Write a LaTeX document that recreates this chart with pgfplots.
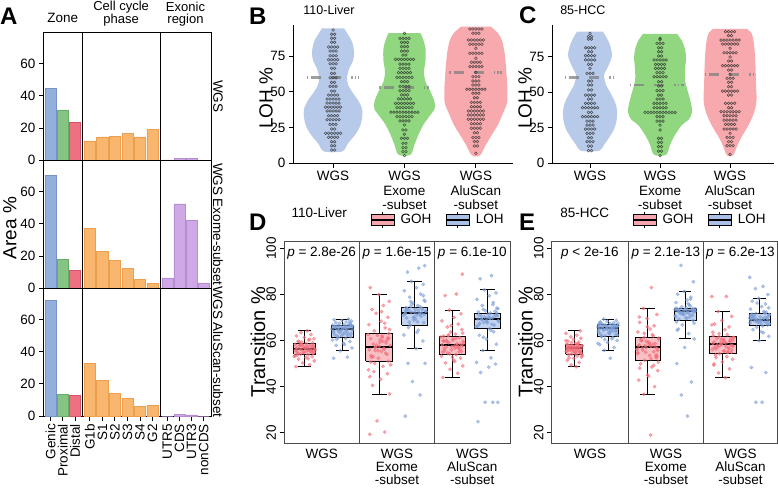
\documentclass[border=0pt]{standalone}
\usepackage{fontspec}
\setmainfont{Liberation Sans}
\usepackage{pgfplots}
\usepackage{pgfplotstable}
\pgfplotsset{compat=1.18}

\newcommand\fsn{\fontsize{13.5bp}{14.5bp}\selectfont}
\newcommand\fst{\fontsize{12.5bp}{14bp}\selectfont}
\newcommand\fsl{\fontsize{19bp}{21bp}\selectfont}
\newcommand\fsT{\fontsize{20bp}{22bp}\selectfont}
\newcommand\fsL{\fontsize{24bp}{26bp}\selectfont\bfseries}

\definecolor{genic}{HTML}{93AFDC}\definecolor{genicd}{HTML}{7393C9}
\definecolor{prox}{HTML}{86C484}\definecolor{proxd}{HTML}{66AD63}
\definecolor{dist}{HTML}{EE7182}\definecolor{distd}{HTML}{D85369}
\definecolor{phase}{HTML}{F9B66E}\definecolor{phased}{HTML}{EE9F4D}
\definecolor{exon}{HTML}{CEA9E6}\definecolor{exond}{HTML}{B48DD3}
\definecolor{vblue}{HTML}{B7CAE9}\definecolor{vgreen}{HTML}{90D780}
\definecolor{vred}{HTML}{F7A9AD}
\definecolor{ptred}{HTML}{F26E7A}\definecolor{ptblue}{HTML}{7E9FD8}
\definecolor{boxred}{HTML}{F5A5AD}\definecolor{boxblue}{HTML}{ABC0E7}

\pgfplotsset{
  /pgf/number format/assume math mode=true,
  base/.style={scale only axis, anchor=south west, clip=false, tick align=outside,
    major tick length=4.5bp, tick style={black, line width=0.8bp},
    tick label style={font=\fsn}, label style={font=\fsl},
    axis line style={line width=0.8bp}},
  pA/.style={base, height=127.9bp, ymin=0, ymax=79.5, ybar, bar width=0.9, bar shift=0pt,
    xtick=\empty, ytick=\empty, every axis plot/.append style={line width=0.5bp}},
  pAl/.style={ytick={0,20,40,60}, ytick pos=left},
  pAb/.style={xtick pos=left, xticklabel style={rotate=90, anchor=east}},
  c1/.style={at={(43.3bp,#1)}, width=39bp, xmin=0.4, xmax=3.6},
  c2/.style={at={(82.3bp,#1)}, width=77.7bp, xmin=0.4, xmax=6.6},
  c3/.style={at={(160bp,#1)}, width=51bp, xmin=0.4, xmax=4.6},
  vio/.style={base, height=138.3bp, ymin=0, axis x line*=bottom, axis y line*=left,
    axis line style={-}, xtick={1,2,3},
    xticklabels={WGS,{WGS\\Exome\\-subset},{WGS\\AluScan\\-subset}},
    xticklabel style={align=center}, ytick={0,25,50,75}, ylabel={LOH \%}},
  dots/.style={only marks, mark=o, mark size=1.35bp,
    mark options={line width=0.55bp, draw=black!85, opacity=0.75}},
  med/.style={gray, opacity=0.75, line width=2.8bp,
    dash pattern=on 1.5bp off 3bp on 10bp off 10bp on 10bp off 10bp on 1.5bp off 2bp on 1.5bp},
  bx/.style={base, height=202.3bp, ymin=15.4, ymax=103.2, xmin=0.5, xmax=6.5,
    axis line style={black!70}, xtick style={draw=none},
    xticklabels={WGS,{WGS\\Exome\\-subset},{WGS\\AluScan\\-subset}},
    xticklabel style={align=center, font=\fontsize{13.5bp}{13bp}\selectfont, yshift=2bp},
    ytick={20,40,60,80,100}, ytick pos=left,
    yticklabel style={rotate=90, anchor=south}, ylabel={Transition \%},
    ylabel style={font=\fsT, at={(axis description cs:-0.115,0.5)}, anchor=center},
    legend style={draw=none, fill=none, font=\fsn, legend columns=2, inner sep=0pt,
      /tikz/every odd column/.append style={column sep=4bp},
      /tikz/every even column/.append style={column sep=12bp}}},
  pr/.style={only marks, mark=*, mark size=1.7bp, ptred, mark options={draw=none, opacity=0.6}},
  pb/.style={only marks, mark=*, mark size=1.7bp, ptblue, mark options={draw=none, opacity=0.6}},
}

\newcommand\keyimg[1]{\addlegendimage{legend image code/.code={
  \draw[black, line width=0.8bp, fill=#1] (0bp,-5.5bp) rectangle (23bp,5.5bp);
  \draw[black, line width=1.4bp] (0bp,0bp) -- (23bp,0bp);
  \draw[black, line width=0.8bp] (11.5bp,5.5bp) -- (11.5bp,8bp) (11.5bp,-5.5bp) -- (11.5bp,-8bp);}}}
% box: colour, left, right, q1, median, q3
\newcommand\bxbox[6]{%
  \addplot[fill=#1, fill opacity=0.7, draw=black, line width=0.9bp, line join=miter]
    coordinates {(#2,#4) (#3,#4) (#3,#6) (#2,#6) (#2,#4)};
  \addplot[black, line width=2bp] coordinates {(#2,#5) (#3,#5)};}
% whiskers: position, cap left, cap right, lower whisker, q1, q3, upper whisker
\newcommand\bxwh[7]{%
  \addplot[black, line width=0.9bp] coordinates {(#1,#6) (#1,#7)};
  \addplot[black, line width=0.9bp] coordinates {(#1,#5) (#1,#4)};
  \addplot[black, line width=0.9bp] coordinates {(#2,#7) (#3,#7)};
  \addplot[black, line width=0.9bp] coordinates {(#2,#4) (#3,#4)};}

% jitter offsets and values for D (110-Liver) and E (85-HCC)
\pgfplotstableread{
dx dy Dg1 Dl1 Dg2 Dl2 Dg3 Dl3 Eg1 El1 Eg2 El2 Eg3 El3
-0.21 0.06 48.7 52.3 19.3 27.2 44.0 24.8 48.6 52.3 19.0 27.2 43.9 33.2
0.12 -0.09 49.5 52.8 20.3 36.4 45.8 33.2 49.4 55.7 36.7 36.4 45.9 33.2
-0.05 0.15 50.3 55.5 25.1 42.2 47.5 33.2 50.5 57.0 40.0 42.0 47.7 46.1
0.23 -0.20 51.2 56.8 36.8 50.1 49.0 33.2 51.4 58.2 42.8 50.0 49.3 48.3
-0.15 -0.01 51.9 57.9 40.5 50.1 50.3 46.1 52.2 59.2 45.0 57.0 50.7 59.9
0.03 0.22 52.6 58.8 43.2 56.5 51.5 48.5 52.8 60.0 46.9 60.7 51.9 61.8
0.18 0.09 53.0 59.6 45.6 59.8 52.4 49.8 53.3 60.8 48.5 63.0 53.0 63.4
-0.24 -0.16 53.4 60.2 47.3 62.4 53.2 50.5 53.7 61.6 49.9 65.0 53.7 64.7
0.08 -0.07 53.8 60.8 48.8 64.5 53.9 52.5 54.1 62.1 51.4 66.8 54.3 65.8
-0.10 0.19 54.1 61.3 50.1 66.7 54.6 55.7 54.5 62.6 52.5 68.7 54.9 66.7
0.20 0.04 54.4 61.7 51.0 67.8 55.3 58.4 54.9 63.1 53.5 69.6 55.5 67.2
-0.02 -0.23 54.7 62.1 52.3 68.9 55.9 60.6 55.3 63.6 54.4 70.4 56.1 67.7
-0.18 0.13 55.0 62.5 53.4 69.8 56.5 62.3 55.6 64.0 55.2 71.1 56.7 68.1
0.14 -0.11 55.2 62.9 54.5 70.5 57.0 63.8 55.9 64.4 55.9 71.7 57.2 68.5
0.05 0.21 55.5 63.3 55.3 71.1 57.6 65.1 56.2 64.8 56.5 72.2 57.8 68.8
-0.22 -0.04 55.7 63.7 56.0 71.6 58.1 66.2 56.5 65.1 57.0 72.6 58.4 69.0
0.10 0.07 55.9 64.1 56.6 72.0 58.6 67.1 56.7 65.4 57.5 72.9 58.9 69.3
-0.08 -0.19 56.1 64.5 57.2 72.4 59.1 67.9 56.9 65.6 58.1 73.1 59.4 69.6
0.24 0.16 56.3 64.8 57.8 72.8 59.6 68.6 57.1 65.8 58.7 73.3 59.9 69.9
-0.13 0.01 56.4 65.1 58.5 73.2 60.1 69.3 57.3 66.0 59.3 73.5 60.4 70.3
0.01 -0.13 56.6 65.3 59.2 73.6 60.6 69.9 57.5 66.2 59.9 73.7 60.9 70.7
0.16 0.24 56.8 65.5 60.0 74.0 61.2 70.5 57.7 66.4 60.6 73.8 61.3 71.1
-0.19 -0.08 57.0 65.7 60.8 74.3 61.9 71.2 57.9 66.6 61.4 74.6 61.7 71.7
0.07 0.10 57.2 65.9 61.5 75.2 62.8 71.9 58.1 66.8 62.5 75.5 62.6 72.6
-0.04 -0.22 57.4 66.1 62.2 76.3 63.7 72.9 58.4 67.1 63.7 76.5 63.6 73.6
0.21 0.05 57.6 66.3 63.0 77.5 64.8 74.0 58.8 67.4 65.0 77.6 64.7 74.7
-0.11 0.14 57.8 66.5 64.2 78.8 65.9 75.2 59.3 67.7 66.4 78.8 65.9 75.9
0.13 -0.18 58.0 66.6 65.5 80.2 67.1 76.5 59.8 68.0 67.9 80.1 67.2 77.1
-0.23 -0.02 58.3 66.7 66.9 81.6 68.5 77.9 60.4 68.4 69.5 81.3 68.7 78.3
0.04 0.20 58.6 66.9 68.4 83.0 70.0 79.4 61.0 68.8 71.3 85.5 70.5 80.0
0.19 -0.10 58.9 67.2 70.1 84.4 71.6 80.7 61.6 69.3 73.9 92.6 72.6 82.5
-0.07 0.08 59.3 67.5 71.8 85.7 73.2 82.0 62.3 64.2 83.0 72.0 79.1 83.5
-0.16 -0.24 59.7 67.8 73.5 89.7 79.5 86.8 63.1 65.9 56.2 73.4 79.1 87.4
0.09 0.18 60.2 68.1 75.2 91.4 80.2 88.2 64.2 66.5 53.0 70.9 58.0 69.5
0.22 0.03 60.8 68.4 77.0 92.5 88.8 70.8 55.1 63.0 58.4 74.2 60.2 68.3
-0.01 -0.15 61.3 68.7 80.0 70.2 57.3 68.1 57.0 67.2 60.1 69.2 56.4 70.1
-0.20 0.23 62.0 69.0 83.0 73.0 59.9 72.4 53.9 62.4 50.6 72.7 57.5 71.3
0.15 -0.05 62.6 69.3 58.9 71.8 55.1 66.7 56.0 65.0 54.9 71.4 59.1 67.9
-0.09 0.12 63.4 64.0 55.7 74.8 62.4 73.5 58.6 61.2 62.0 75.0 55.2 72.2
0.06 -0.21 64.2 65.6 61.9 68.2 56.7 69.6 55.4 66.9 57.7 68.1 62.1 68.9
0.11 -0.12 55.8 64.6 56.4 71.4 57.8 69.8 56.3 65.2 56.8 72.4 58.1 69.2
-0.17 0.20 54.3 65.8 52.7 73.8 55.6 67.5 54.7 64.1 53.3 73.2 56.0 70.5
0.02 -0.03 57.1 62.8 60.4 69.4 60.3 71.5 57.6 66.3 59.6 71.3 60.6 68.0
0.25 -0.18 56.0 66.2 49.5 72.6 58.8 68.3 55.8 62.9 48.0 73.6 57.1 71.4
-0.06 0.11 58.2 63.5 58.0 75.8 54.2 70.2 58.0 65.7 58.3 70.1 54.8 69.8
-0.25 0.24 53.1 65.0 62.6 70.9 61.5 66.0 53.4 67.5 61.0 72.8 61.3 67.2
0.17 -0.22 55.4 67.9 54.0 73.4 56.2 72.7 56.6 64.6 54.6 74.1 58.7 70.9
-0.12 0.02 57.9 61.9 46.5 68.0 59.4 69.1 57.2 63.3 44.5 69.9 55.4 68.6
0.00 0.16 56.7 64.9 57.5 72.2 52.8 67.7 55.0 66.6 57.2 73.0 59.6 72.3
0.23 -0.08 54.9 66.4 64.8 77.0 63.2 73.9 59.1 60.4 63.1 71.9 63.0 69.4
-0.14 0.07 59.5 60.5 53.0 65.6 57.2 70.6 56.1 65.0 52.1 76.0 57.4 66.3
0.08 -0.15 52.1 65.3 59.7 73.1 60.9 64.4 52.5 62.0 60.4 72.5 52.6 70.2
-0.21 0.22 56.2 63.9 44.3 71.8 55.0 69.4 57.8 66.1 55.6 67.5 60.0 74.2
0.19 -0.01 57.4 67.0 61.1 79.5 58.3 71.0 55.5 64.9 66.0 73.4 58.9 68.4
-0.03 -0.24 55.1 64.3 55.6 70.0 66.5 68.8 60.0 58.8 56.1 70.7 66.8 69.7
0.12 0.13 60.5 62.3 67.5 74.6 56.9 75.6 56.8 65.5 49.2 78.0 56.6 71.8
-0.19 0.04 53.6 66.0 50.6 72.9 59.7 66.9 54.3 63.8 58.9 72.1 59.3 63.8
0.05 -0.19 56.9 58.3 72.5 63.5 50.9 70.0 58.3 67.9 70.2 64.5 49.8 70.7
-0.09 0.18 58.4 65.7 57.0 76.9 62.1 61.4 55.2 64.4 53.8 73.9 61.0 67.6
0.21 -0.06 55.6 63.1 60.9 71.3 57.5 72.0 56.4 66.7 57.9 71.6 57.8 76.3
}\JT

\begin{document}
\begin{tikzpicture}
\useasboundingbox (0,0) rectangle (778bp,488bp);

% ---------------- A ----------------
\begin{axis}[pA, pAl, c1=327.8bp]
\addplot[fill=genic, draw=genicd] coordinates {(1,45)};
\addplot[fill=prox, draw=proxd] coordinates {(2,31)};
\addplot[fill=dist, draw=distd] coordinates {(3,23.8)};
\node[anchor=base, font=\fsn] at (rel axis cs:0.5,1.077) {Zone};
\end{axis}
\begin{axis}[pA, c2=327.8bp]
\addplot[fill=phase, draw=phased] coordinates {(1,12) (2,14.5) (3,14.7) (4,16.8) (5,14.5) (6,19)};
\node[anchor=south, align=center, inner sep=0pt, font=\fontsize{13bp}{12bp}\selectfont]
  at (rel axis cs:0.5,1.047) {Cell cycle\\phase};
\end{axis}
\begin{axis}[pA, c3=327.8bp]
\addplot[fill=exon, draw=exond] coordinates {(1,0.2) (2,1.2) (3,1.0) (4,0.1)};
\node[anchor=south, align=center, inner sep=0pt, font=\fontsize{13bp}{12bp}\selectfont]
  at (rel axis cs:0.5,1.047) {Exonic\\region};
\node[rotate=-90, font=\fsn] at (rel axis cs:1.137,0.5) {WGS};
\end{axis}

\begin{axis}[pA, pAl, c1=199.9bp, ylabel={Area \%},
  ylabel style={at={(axis description cs:-0.854,0.47)}, anchor=center}]
\addplot[fill=genic, draw=genicd] coordinates {(1,70.3)};
\addplot[fill=prox, draw=proxd] coordinates {(2,18.2)};
\addplot[fill=dist, draw=distd] coordinates {(3,11.2)};
\end{axis}
\begin{axis}[pA, c2=199.9bp]
\addplot[fill=phase, draw=phased] coordinates {(1,37) (2,23) (3,17) (4,12.4) (5,5.5) (6,2.8)};
\end{axis}
\begin{axis}[pA, c3=199.9bp]
\addplot[fill=exon, draw=exond] coordinates {(1,6.4) (2,52.4) (3,42) (4,3.3)};
\node[rotate=-90, font=\fsn] at (rel axis cs:1.137,0.5) {WGS Exome-subset};
\end{axis}

\begin{axis}[pA, pAl, pAb, c1=72bp, xtick={1,2,3}, xticklabels={Genic,Proximal,Distal}]
\addplot[fill=genic, draw=genicd] coordinates {(1,72.2)};
\addplot[fill=prox, draw=proxd] coordinates {(2,13.7)};
\addplot[fill=dist, draw=distd] coordinates {(3,12.6)};
\end{axis}
\begin{axis}[pA, pAb, c2=72bp, xtick={1,...,6}, xticklabels={G1b,S1,S2,S3,S4,G2}]
\addplot[fill=phase, draw=phased] coordinates {(1,32.8) (2,22) (3,14) (4,11) (5,6) (6,6.5)};
\end{axis}
\begin{axis}[pA, pAb, c3=72bp, xtick={1,...,4}, xticklabels={UTR5,CDS,UTR3,nonCDS}]
\addplot[fill=exon, draw=exond] coordinates {(1,0) (2,1.2) (3,0.7) (4,0)};
\node[rotate=-90, font=\fsn] at (rel axis cs:1.137,0.5) {WGS AluScan-subset};
\end{axis}

% ---------------- B ----------------
\begin{axis}[vio, at={(293.3bp,324.7bp)}, width=219.7bp, xmin=0.443, xmax=3.52, ymax=96.7,
  ylabel style={at={(axis description cs:-0.124,0.47)}, anchor=center},
  title={110-Liver}, title style={font=\fst, at={(axis description cs:0.03,1.033)}, anchor=base west}]
\addplot[fill=vblue, draw=none, smooth, tension=0.5] table[row sep=\\, x expr=1+\thisrow{h}, y=y]{y h\\
94.4 .154\\ 90 .210\\ 85 .266\\ 78 .295\\ 72 .281\\ 66 .224\\ 60 .196\\ 55 .210\\ 50 .266\\ 44 .351\\ 38 .407\\ 32 .407\\ 26 .379\\ 20 .309\\ 14 .210\\ 8.3 .126\\
8.3 -.126\\ 14 -.210\\ 20 -.309\\ 26 -.379\\ 32 -.407\\ 38 -.407\\ 44 -.351\\ 50 -.266\\ 55 -.210\\ 60 -.196\\ 66 -.224\\ 72 -.281\\ 78 -.295\\ 85 -.266\\ 90 -.210\\ 94.4 -.154\\};
\addplot[fill=vgreen, draw=none, smooth, tension=0.5] table[row sep=\\, x expr=2+\thisrow{h}, y=y]{y h\\
91 .224\\ 86 .266\\ 80 .295\\ 72 .295\\ 64 .273\\ 57 .295\\ 50 .365\\ 43 .421\\ 38 .421\\ 33 .351\\ 27 .266\\ 20 .196\\ 13 .140\\ 6 .084\\
6 -.084\\ 13 -.140\\ 20 -.196\\ 27 -.266\\ 33 -.351\\ 38 -.421\\ 43 -.421\\ 50 -.365\\ 57 -.295\\ 64 -.273\\ 72 -.295\\ 80 -.295\\ 86 -.266\\ 91 -.224\\};
\addplot[fill=vred, draw=none, smooth, tension=0.5] table[row sep=\\, x expr=3+\thisrow{h}, y=y]{y h\\
95.5 .210\\ 91 .309\\ 86 .365\\ 78 .400\\ 68 .421\\ 58 .435\\ 50 .442\\ 42 .435\\ 35 .379\\ 27 .309\\ 20 .224\\ 13 .140\\ 5.5 .056\\
5.5 -.056\\ 13 -.140\\ 20 -.224\\ 27 -.309\\ 35 -.379\\ 42 -.435\\ 50 -.442\\ 58 -.435\\ 68 -.421\\ 78 -.400\\ 86 -.365\\ 91 -.309\\ 95.5 -.210\\};
\addplot[med] coordinates {(0.63,59.8) (1.37,59.8)};
\addplot[med] coordinates {(1.65,52.9) (2.35,52.9)};
\addplot[med] coordinates {(2.63,63.6) (3.37,63.6)};
\addplot[dots] table[row sep=\\, x expr=1+0.042*\thisrow{k}, y=y]{y k\\
93.2 0\\ 90.2 -.5\\ 90.2 .5\\ 87.4 -.5\\ 87.4 .5\\ 84.6 -.5\\ 84.6 .5\\
81.3 -1.5\\ 81.3 -.5\\ 81.3 .5\\ 81.3 1.5\\ 78.5 -1\\ 78.5 0\\ 78.5 1\\ 75.2 -1\\ 75.2 0\\ 75.2 1\\
72.4 -1.5\\ 72.4 -.5\\ 72.4 .5\\ 72.4 1.5\\ 69.6 -1\\ 69.6 0\\ 69.6 1\\ 66.4 -.5\\ 66.4 .5\\
62.9 -.5\\ 62.9 .5\\ 59.8 -1\\ 59.8 0\\ 59.8 1\\ 56.6 -.5\\ 56.6 .5\\ 53.8 -1\\ 53.8 0\\ 53.8 1\\
50.5 -.5\\ 50.5 .5\\ 47.7 -1.5\\ 47.7 -.5\\ 47.7 .5\\ 47.7 1.5\\
44.9 -2\\ 44.9 -1\\ 44.9 0\\ 44.9 1\\ 44.9 2\\ 42.1 -2\\ 42.1 -1\\ 42.1 0\\ 42.1 1\\ 42.1 2\\
39.3 -2.5\\ 39.3 -1.5\\ 39.3 -.5\\ 39.3 .5\\ 39.3 1.5\\ 39.3 2.5\\
36.6 -2\\ 36.6 -1\\ 36.6 0\\ 36.6 1\\ 36.6 2\\ 33.3 -1.5\\ 33.3 -.5\\ 33.3 .5\\ 33.3 1.5\\
30.5 -2\\ 30.5 -1\\ 30.5 0\\ 30.5 1\\ 30.5 2\\ 27.2 -1\\ 27.2 0\\ 27.2 1\\ 24 -.5\\ 24 .5\\
21 -2.5\\ 21 -1.5\\ 21 -.5\\ 21 .5\\ 21 1.5\\ 21 2.5\\ 18.2 -1.5\\ 18.2 -.5\\ 18.2 .5\\ 18.2 1.5\\
15.1 -.5\\ 15.1 .5\\ 12.3 -.5\\ 12.3 .5\\ 9.3 -.5\\ 9.3 .5\\};
\addplot[dots] table[row sep=\\, x expr=2+0.042*\thisrow{k}, y=y]{y k\\
90.9 0\\ 87.4 -1.5\\ 87.4 -.5\\ 87.4 .5\\ 87.4 1.5\\ 84.6 -1\\ 84.6 0\\ 84.6 1\\
81.6 -1\\ 81.6 0\\ 81.6 1\\ 78.5 -1\\ 78.5 0\\ 78.5 1\\ 75.7 -.5\\ 75.7 .5\\
72.7 -3\\ 72.7 -2\\ 72.7 -1\\ 72.7 0\\ 72.7 1\\ 72.7 2\\ 72.7 3\\
69.4 -1.5\\ 69.4 -.5\\ 69.4 .5\\ 69.4 1.5\\ 66.4 -1.5\\ 66.4 -.5\\ 66.4 .5\\ 66.4 1.5\\
63.4 -2\\ 63.4 -1\\ 63.4 0\\ 63.4 1\\ 63.4 2\\ 60.1 -2.5\\ 60.1 -1.5\\ 60.1 -.5\\ 60.1 .5\\ 60.1 1.5\\ 60.1 2.5\\
57.1 -1\\ 57.1 0\\ 57.1 1\\ 53.8 -1.5\\ 53.8 -.5\\ 53.8 .5\\ 53.8 1.5\\
50.8 -1.5\\ 50.8 -.5\\ 50.8 .5\\ 50.8 1.5\\ 47.8 -1\\ 47.8 0\\ 47.8 1\\
45 -2\\ 45 -1\\ 45 0\\ 45 1\\ 45 2\\ 41.9 -3\\ 41.9 -2\\ 41.9 -1\\ 41.9 0\\ 41.9 1\\ 41.9 2\\ 41.9 3\\
38.9 -2.5\\ 38.9 -1.5\\ 38.9 -.5\\ 38.9 .5\\ 38.9 1.5\\ 38.9 2.5\\
35.7 -4.5\\ 35.7 -3.5\\ 35.7 -2.5\\ 35.7 -1.5\\ 35.7 -.5\\ 35.7 .5\\ 35.7 1.5\\ 35.7 2.5\\ 35.7 3.5\\ 35.7 4.5\\
32.6 -2.5\\ 32.6 -1.5\\ 32.6 -.5\\ 32.6 .5\\ 32.6 1.5\\ 32.6 2.5\\ 29.6 -1.5\\ 29.6 -.5\\ 29.6 .5\\ 29.6 1.5\\
26.8 0\\ 23.3 -.5\\ 23.3 .5\\ 20.3 0\\ 17.5 -1\\ 17.5 0\\ 17.5 1\\ 14 -.5\\ 14 .5\\ 11 -.5\\ 11 .5\\
8.2 -.5\\ 8.2 .5\\ 5.4 0\\};
\addplot[dots] table[row sep=\\, x expr=3+0.042*\thisrow{k}, y=y]{y k\\
93.9 -2\\ 93.9 -1\\ 93.9 0\\ 93.9 1\\ 93.9 2\\ 90.9 -1\\ 90.9 0\\ 90.9 1\\
86.2 -2.5\\ 86.2 -1.5\\ 86.2 -.5\\ 86.2 .5\\ 86.2 1.5\\ 86.2 2.5\\ 83.2 -2\\ 83.2 -1\\ 83.2 0\\ 83.2 1\\ 83.2 2\\
80.4 0\\ 76.9 -2\\ 76.9 -1\\ 76.9 0\\ 76.9 1\\ 76.9 2\\ 73.4 0\\ 70.6 -1.5\\ 70.6 -.5\\ 70.6 .5\\ 70.6 1.5\\
67.6 -2\\ 67.6 -1\\ 67.6 0\\ 67.6 1\\ 67.6 2\\ 63.6 0\\ 60.6 -1\\ 60.6 0\\ 60.6 1\\ 57.6 -1\\ 57.6 0\\ 57.6 1\\
54.8 -1\\ 54.8 0\\ 54.8 1\\ 51.7 -3\\ 51.7 -2\\ 51.7 -1\\ 51.7 0\\ 51.7 1\\ 51.7 2\\ 51.7 3\\
48.9 -1\\ 48.9 0\\ 48.9 1\\ 45.9 -.5\\ 45.9 .5\\ 42.6 -1.5\\ 42.6 -.5\\ 42.6 .5\\ 42.6 1.5\\
39.6 -1.5\\ 39.6 -.5\\ 39.6 .5\\ 39.6 1.5\\ 36.6 -2.5\\ 36.6 -1.5\\ 36.6 -.5\\ 36.6 .5\\ 36.6 1.5\\ 36.6 2.5\\
33.8 -2.5\\ 33.8 -1.5\\ 33.8 -.5\\ 33.8 .5\\ 33.8 1.5\\ 33.8 2.5\\ 30.8 -2.5\\ 30.8 -1.5\\ 30.8 -.5\\ 30.8 .5\\ 30.8 1.5\\ 30.8 2.5\\
27.7 -1.5\\ 27.7 -.5\\ 27.7 .5\\ 27.7 1.5\\ 24.5 -1.5\\ 24.5 -.5\\ 24.5 .5\\ 24.5 1.5\\
21.4 -.5\\ 21.4 .5\\ 18 -1\\ 18 0\\ 18 1\\ 15.2 -.5\\ 15.2 .5\\ 12.1 -.5\\ 12.1 .5\\ 7 0\\};
\end{axis}

% ---------------- C ----------------
\begin{axis}[vio, at={(552.3bp,324.7bp)}, width=222bp, xmin=0.461, xmax=3.632, ymax=97.3,
  ylabel style={at={(axis description cs:-0.123,0.47)}, anchor=center},
  title={85-HCC}, title style={font=\fst, at={(axis description cs:0.02,1.031)}, anchor=base west}]
\addplot[fill=vblue, draw=none, smooth, tension=0.5] table[row sep=\\, x expr=1+\thisrow{h}, y=y]{y h\\
92.6 .186\\ 85 .271\\ 76 .314\\ 68 .257\\ 62 .200\\ 55 .229\\ 50 .286\\ 43 .357\\ 37 .386\\ 30 .379\\ 24 .343\\ 18 .271\\ 13 .200\\ 8.8 .129\\
8.8 -.129\\ 13 -.200\\ 18 -.271\\ 24 -.343\\ 30 -.379\\ 37 -.386\\ 43 -.357\\ 50 -.286\\ 55 -.229\\ 62 -.200\\ 68 -.257\\ 76 -.314\\ 85 -.271\\ 92.6 -.186\\};
\addplot[fill=vgreen, draw=none, smooth, tension=0.5] table[row sep=\\, x expr=2+\thisrow{h}, y=y]{y h\\
91 .243\\ 86 .314\\ 80 .357\\ 74 .371\\ 66 .357\\ 58 .357\\ 50 .400\\ 42 .443\\ 36 .457\\ 31 .414\\ 27 .314\\ 20 .214\\ 13 .143\\ 6 .086\\
6 -.086\\ 13 -.143\\ 20 -.214\\ 27 -.314\\ 31 -.414\\ 36 -.457\\ 42 -.443\\ 50 -.400\\ 58 -.357\\ 66 -.357\\ 74 -.371\\ 80 -.357\\ 86 -.314\\ 91 -.243\\};
\addplot[fill=vred, draw=none, smooth, tension=0.5] table[row sep=\\, x expr=3+\thisrow{h}, y=y]{y h\\
94.5 .243\\ 92 .300\\ 88 .329\\ 80 .350\\ 68 .364\\ 55 .371\\ 45 .379\\ 38 .357\\ 32 .314\\ 25 .243\\ 18 .157\\ 12 .100\\ 5.5 .043\\
5.5 -.043\\ 12 -.100\\ 18 -.157\\ 25 -.243\\ 32 -.314\\ 38 -.357\\ 45 -.379\\ 55 -.371\\ 68 -.364\\ 80 -.350\\ 88 -.329\\ 92 -.300\\ 94.5 -.243\\};
\addplot[med] coordinates {(0.64,60.2) (1.36,60.2)};
\addplot[med] coordinates {(1.57,55.1) (2.43,55.1)};
\addplot[med] coordinates {(2.64,62.6) (3.36,62.6)};
\addplot[dots] table[row sep=\\, x expr=1+0.043*\thisrow{k}, y=y]{y k\\
91.4 0\\ 89.1 -.5\\ 89.1 .5\\ 87.4 -.5\\ 87.4 .5\\ 81.3 -1.5\\ 81.3 -.5\\ 81.3 .5\\ 81.3 1.5\\
78.5 -.5\\ 78.5 .5\\ 75.7 -1.5\\ 75.7 -.5\\ 75.7 .5\\ 75.7 1.5\\ 72.7 -1.5\\ 72.7 -.5\\ 72.7 .5\\ 72.7 1.5\\
69.6 -.5\\ 69.6 .5\\ 66.8 0\\ 63.3 -1\\ 63.3 0\\ 63.3 1\\ 57.9 -.5\\ 57.9 .5\\ 55.1 -.5\\ 55.1 .5\\
51.6 -.5\\ 51.6 .5\\ 48 -1.5\\ 48 -.5\\ 48 .5\\ 48 1.5\\ 45.2 -.5\\ 45.2 .5\\
42.2 -1.5\\ 42.2 -.5\\ 42.2 .5\\ 42.2 1.5\\ 39.1 -2.5\\ 39.1 -1.5\\ 39.1 -.5\\ 39.1 .5\\ 39.1 1.5\\ 39.1 2.5\\
35.8 -.5\\ 35.8 .5\\ 32.8 -2.5\\ 32.8 -1.5\\ 32.8 -.5\\ 32.8 .5\\ 32.8 1.5\\ 32.8 2.5\\
29.7 -1\\ 29.7 0\\ 29.7 1\\ 26.9 -1\\ 26.9 0\\ 26.9 1\\ 24.1 -1.5\\ 24.1 -.5\\ 24.1 .5\\ 24.1 1.5\\
21.1 -1\\ 21.1 0\\ 21.1 1\\ 18 -.5\\ 18 .5\\ 15.2 -1\\ 15.2 0\\ 15.2 1\\ 12.1 -.5\\ 12.1 .5\\ 8.9 -.5\\ 8.9 .5\\};
\addplot[dots] table[row sep=\\, x expr=2+0.043*\thisrow{k}, y=y]{y k\\
88 0\\ 87 0\\ 84.4 -1\\ 84.4 0\\ 84.4 1\\ 81.3 -.5\\ 81.3 .5\\ 78.5 -.5\\ 78.5 .5\\ 75.5 -.5\\ 75.5 .5\\
72.7 -2\\ 72.7 -1\\ 72.7 0\\ 72.7 1\\ 72.7 2\\ 69.6 -1.5\\ 69.6 -.5\\ 69.6 .5\\ 69.6 1.5\\
66.8 -1.5\\ 66.8 -.5\\ 66.8 .5\\ 66.8 1.5\\ 63.8 -1\\ 63.8 0\\ 63.8 1\\
60.9 -2\\ 60.9 -1\\ 60.9 0\\ 60.9 1\\ 60.9 2\\ 57.4 -.5\\ 57.4 .5\\ 54.4 -.5\\ 54.4 .5\\
51.1 -1\\ 51.1 0\\ 51.1 1\\ 48 -.5\\ 48 .5\\ 45.2 -1\\ 45.2 0\\ 45.2 1\\
42.2 -2\\ 42.2 -1\\ 42.2 0\\ 42.2 1\\ 42.2 2\\ 39.1 -2\\ 39.1 -1\\ 39.1 0\\ 39.1 1\\ 39.1 2\\
35.8 -5\\ 35.8 -4\\ 35.8 -3\\ 35.8 -2\\ 35.8 -1\\ 35.8 0\\ 35.8 1\\ 35.8 2\\ 35.8 3\\ 35.8 4\\ 35.8 5\\
32.8 -1\\ 32.8 0\\ 32.8 1\\ 29.7 -1\\ 29.7 0\\ 29.7 1\\ 26.9 0\\ 23.4 0\\
17.5 -.5\\ 17.5 .5\\ 14.7 -.5\\ 14.7 .5\\ 11.7 -.5\\ 11.7 .5\\ 8.6 -.5\\ 8.6 .5\\ 5.3 0\\};
\addplot[dots] table[row sep=\\, x expr=3+0.043*\thisrow{k}, y=y]{y k\\
92.6 -1.5\\ 92.6 -.5\\ 92.6 .5\\ 92.6 1.5\\ 89.8 -.5\\ 89.8 .5\\
86.7 -3\\ 86.7 -2\\ 86.7 -1\\ 86.7 0\\ 86.7 1\\ 86.7 2\\ 86.7 3\\
83.9 -2.5\\ 83.9 -1.5\\ 83.9 -.5\\ 83.9 .5\\ 83.9 1.5\\ 83.9 2.5\\ 80.9 0\\
77.8 -2\\ 77.8 -1\\ 77.8 0\\ 77.8 1\\ 77.8 2\\ 74.8 0\\ 72 -.5\\ 72 .5\\
68.7 -2.5\\ 68.7 -1.5\\ 68.7 -.5\\ 68.7 .5\\ 68.7 1.5\\ 68.7 2.5\\ 65.6 -.5\\ 65.6 .5\\ 62.6 0\\
59.8 -1\\ 59.8 0\\ 59.8 1\\ 57 -.5\\ 57 .5\\ 53.9 -.5\\ 53.9 .5\\
50.8 -2.5\\ 50.8 -1.5\\ 50.8 -.5\\ 50.8 .5\\ 50.8 1.5\\ 50.8 2.5\\ 48 -.5\\ 48 .5\\
42.2 -1.5\\ 42.2 -.5\\ 42.2 .5\\ 42.2 1.5\\ 39.1 -.5\\ 39.1 .5\\
36.3 -3\\ 36.3 -2\\ 36.3 -1\\ 36.3 0\\ 36.3 1\\ 36.3 2\\ 36.3 3\\
33.5 -2\\ 33.5 -1\\ 33.5 0\\ 33.5 1\\ 33.5 2\\ 30.4 -2\\ 30.4 -1\\ 30.4 0\\ 30.4 1\\ 30.4 2\\
27.4 -1.5\\ 27.4 -.5\\ 27.4 .5\\ 27.4 1.5\\ 24.1 -2\\ 24.1 -1\\ 24.1 0\\ 24.1 1\\ 24.1 2\\
21.1 0\\ 18.2 -1\\ 18.2 0\\ 18.2 1\\ 15.2 -.5\\ 15.2 .5\\ 12.4 -1\\ 12.4 0\\ 12.4 1\\ 6.3 0\\};
\end{axis}

% ---------------- D ----------------
\begin{axis}[bx, at={(284bp,44.7bp)}, width=226bp, xtick={1.5,3.5,5.5},
  title={110-Liver}, title style={font=\fsn, at={(axis description cs:0.018,1.089)}, anchor=base west},
  legend style={at={(axis description cs:0.381,1.104)}, anchor=west}]
\keyimg{boxred}\addlegendentry{GOH}
\keyimg{boxblue}\addlegendentry{LOH}
\addplot[black!70, line width=0.8bp] coordinates {(2.5,15.4) (2.5,103.2)};
\addplot[black!70, line width=0.8bp] coordinates {(4.5,15.4) (4.5,103.2)};
\addplot[pr] table[x expr=1.05+1.1*\thisrow{dx}, y=Dg1]{\JT};
\addplot[pb] table[x expr=2.05+1.1*\thisrow{dx}, y=Dl1]{\JT};
\addplot[pr] table[x expr=3.03+1.2*\thisrow{dx}, y=Dg2]{\JT};
\addplot[pb] table[x expr=3.97+1.2*\thisrow{dx}, y=Dl2]{\JT};
\addplot[pr] table[x expr=4.97+1.2*\thisrow{dx}, y=Dg3]{\JT};
\addplot[pb] table[x expr=5.90+1.2*\thisrow{dx}, y=Dl3]{\JT};
\bxwh{1.05}{0.88}{1.22}{48.7}{54.1}{58.6}{64.2}
\bxbox{boxred}{0.76}{1.34}{54.1}{56.4}{58.6}
\bxwh{2.05}{1.88}{2.22}{55.5}{61.3}{66.7}{69.3}
\bxbox{boxblue}{1.75}{2.35}{61.3}{65.1}{66.7}
\bxwh{3.03}{2.83}{3.23}{36.8}{51}{63}{80}
\bxbox{boxred}{2.675}{3.385}{51}{57.2}{63}
\bxwh{3.97}{3.77}{4.17}{56.5}{66.7}{74.3}{85.7}
\bxbox{boxblue}{3.62}{4.32}{66.7}{72}{74.3}
\bxwh{4.97}{4.77}{5.17}{44}{53.9}{61.9}{73.2}
\bxbox{boxred}{4.615}{5.325}{53.9}{58.1}{61.9}
\bxwh{5.90}{5.70}{6.10}{55.7}{65.1}{71.9}{82}
\bxbox{boxblue}{5.545}{6.255}{65.1}{69.3}{71.9}
\node[font=\fsn] at (axis cs:1.5,98.1) {\textit{p} = 2.8e-26};
\node[font=\fsn] at (axis cs:3.5,98.1) {\textit{p} = 1.6e-15};
\node[font=\fsn] at (axis cs:5.5,98.1) {\textit{p} = 6.1e-10};
\end{axis}

% ---------------- E ----------------
\begin{axis}[bx, at={(551.5bp,44.7bp)}, width=225.8bp, xtick={1.52,3.54,5.52},
  title={85-HCC}, title style={font=\fsn, at={(axis description cs:0.024,1.089)}, anchor=base west},
  legend style={at={(axis description cs:0.357,1.104)}, anchor=west}]
\keyimg{boxred}\addlegendentry{GOH}
\keyimg{boxblue}\addlegendentry{LOH}
\addplot[black!70, line width=0.8bp] coordinates {(2.53,15.4) (2.53,103.2)};
\addplot[black!70, line width=0.8bp] coordinates {(4.54,15.4) (4.54,103.2)};
\addplot[pr] table[x expr=1.10+0.9*\thisrow{dy}, y=Eg1]{\JT};
\addplot[pb] table[x expr=2.00+1.1*\thisrow{dy}, y=El1]{\JT};
\addplot[pr] table[x expr=3.06+1.2*\thisrow{dy}, y=Eg2]{\JT};
\addplot[pb] table[x expr=4.05+1.1*\thisrow{dy}, y=El2]{\JT};
\addplot[pr] table[x expr=5.05+1.2*\thisrow{dy}, y=Eg3]{\JT};
\addplot[pb] table[x expr=6.03+1.1*\thisrow{dy}, y=El3]{\JT};
\bxwh{1.10}{0.95}{1.25}{48.6}{54.1}{58.4}{64.2}
\bxbox{boxred}{0.88}{1.32}{54.1}{56.7}{58.4}
\bxwh{2.00}{1.83}{2.17}{55.7}{61.6}{66.8}{69.3}
\bxbox{boxblue}{1.71}{2.29}{61.6}{65.4}{66.8}
\bxwh{3.06}{2.86}{3.26}{36.7}{51.4}{61.4}{73.9}
\bxbox{boxred}{2.72}{3.40}{51.4}{57}{61.4}
\bxwh{4.05}{3.88}{4.22}{60.7}{68.7}{73.8}{81.3}
\bxbox{boxblue}{3.76}{4.34}{68.7}{72.9}{73.8}
\bxwh{5.05}{4.85}{5.25}{43.9}{54.3}{61.7}{72.6}
\bxbox{boxred}{4.695}{5.405}{54.3}{58.4}{61.7}
\bxwh{6.03}{5.86}{6.20}{59.9}{66.7}{71.7}{78.3}
\bxbox{boxblue}{5.755}{6.305}{66.7}{69}{71.7}
\node[font=\fsn] at (axis cs:1.52,98.1) {\textit{p} < 2e-16};
\node[font=\fsn] at (axis cs:3.54,98.1) {\textit{p} = 2.1e-13};
\node[font=\fsn] at (axis cs:5.52,98.1) {\textit{p} = 6.2e-13};
\end{axis}

% panel letters
\node[anchor=base west, font=\fsL, inner sep=0pt] at (0bp,463bp) {A};
\node[anchor=base west, font=\fsL, inner sep=0pt] at (249bp,463bp) {B};
\node[anchor=base west, font=\fsL, inner sep=0pt] at (519bp,464bp) {C};
\node[anchor=base west, font=\fsL, inner sep=0pt] at (249bp,257bp) {D};
\node[anchor=base west, font=\fsL, inner sep=0pt] at (519bp,257bp) {E};
\end{tikzpicture}
\end{document}
